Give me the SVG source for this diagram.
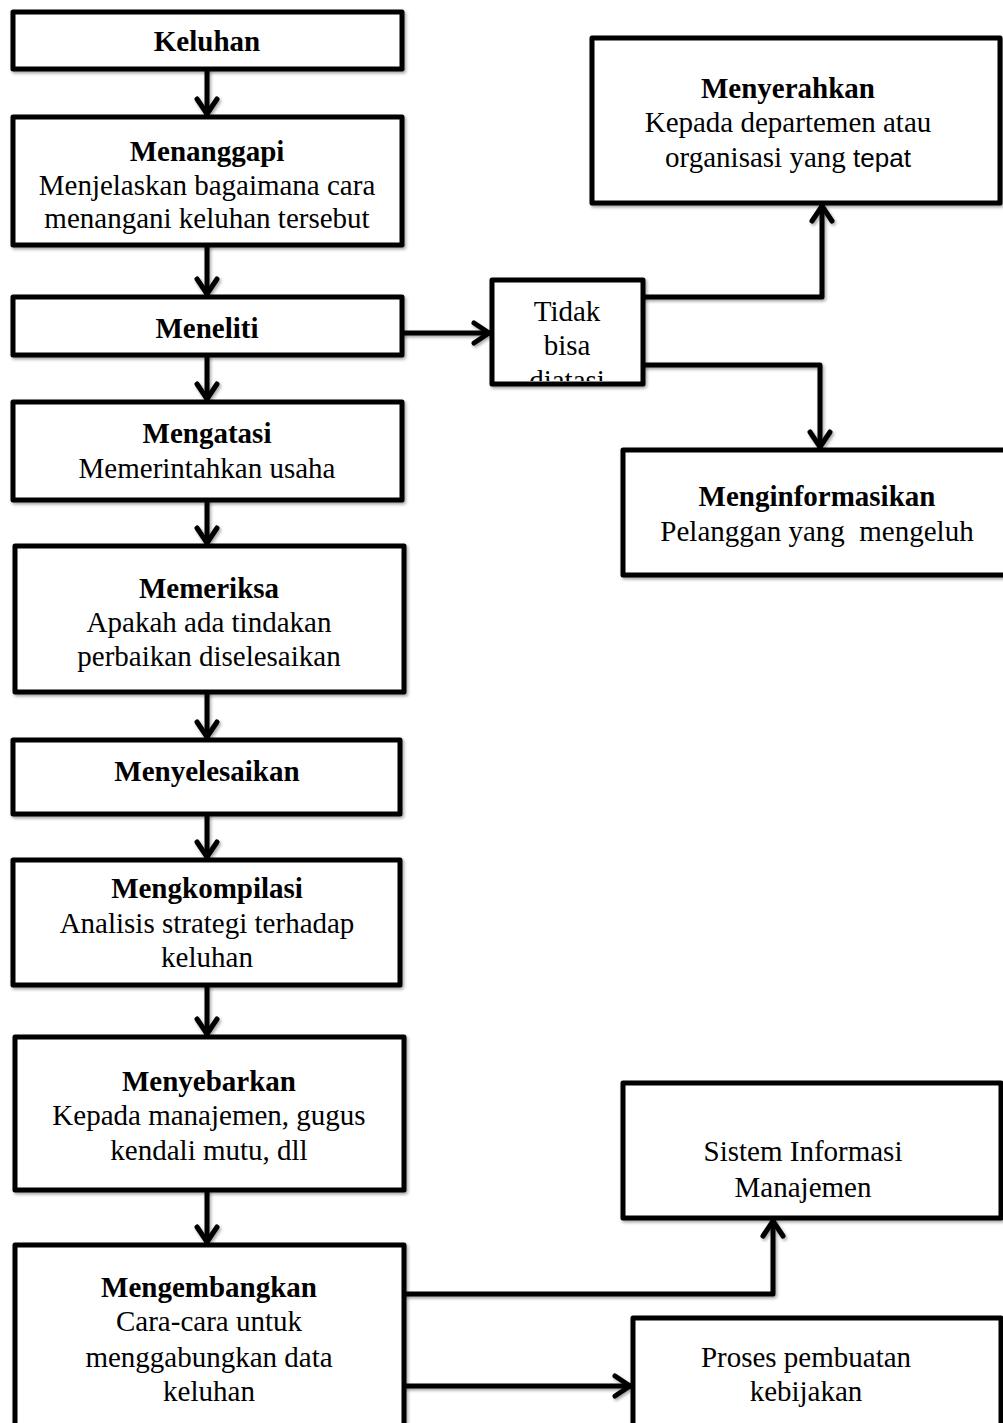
<svg xmlns="http://www.w3.org/2000/svg" width="1003" height="1423" viewBox="0 0 1003 1423">
<style>
.box{fill:#fff;stroke:#000;stroke-width:5;stroke-linejoin:round}
.t{font-family:"Liberation Serif","Times New Roman",serif;font-size:29px;text-anchor:middle;fill:#000}
.b{font-weight:bold}
.c{fill:none;stroke:#000;stroke-width:5;stroke-linejoin:round}
</style>
<defs>
<filter id="sh" x="-20%" y="-20%" width="140%" height="140%">
<feDropShadow dx="1.5" dy="2" stdDeviation="1.5" flood-color="#000" flood-opacity="0.35"/>
</filter>
<marker id="ah" viewBox="0 0 26 26" refX="22" refY="13" markerWidth="26" markerHeight="26" markerUnits="userSpaceOnUse" orient="auto">
<polyline points="6,3 21,13 6,23" fill="none" stroke="#000" stroke-width="5" stroke-linejoin="miter" stroke-linecap="round"/>
</marker>
<clipPath id="clipT"><rect x="494" y="282" width="147" height="99"/></clipPath>
</defs>

<g id="connectors" filter="url(#sh)">
<line class="c" x1="207" y1="69" x2="207" y2="115" marker-end="url(#ah)"/>
<line class="c" x1="207" y1="245" x2="207" y2="295" marker-end="url(#ah)"/>
<line class="c" x1="207" y1="355" x2="207" y2="400" marker-end="url(#ah)"/>
<line class="c" x1="207" y1="500" x2="207" y2="544" marker-end="url(#ah)"/>
<line class="c" x1="207" y1="692" x2="207" y2="738" marker-end="url(#ah)"/>
<line class="c" x1="207" y1="814" x2="207" y2="858" marker-end="url(#ah)"/>
<line class="c" x1="207" y1="985" x2="207" y2="1035" marker-end="url(#ah)"/>
<line class="c" x1="207" y1="1190" x2="207" y2="1243" marker-end="url(#ah)"/>
<line class="c" x1="402" y1="333" x2="490" y2="333" marker-end="url(#ah)"/>
<polyline class="c" points="643,297 822,297 822,205" marker-end="url(#ah)"/>
<polyline class="c" points="643,365 820,365 820,448" marker-end="url(#ah)"/>
<polyline class="c" points="404,1294 773,1294 773,1220" marker-end="url(#ah)"/>
<line class="c" x1="404" y1="1386" x2="631" y2="1386" marker-end="url(#ah)"/>
</g>

<g id="keluhan">
<rect class="box" x="13" y="12" width="389" height="57" filter="url(#sh)"/>
<text class="t b" x="207" y="51">Keluhan</text>
</g>
<g id="menanggapi">
<rect class="box" x="13" y="117" width="389" height="128" filter="url(#sh)"/>
<text class="t b" x="207" y="161">Menanggapi</text>
<text class="t" x="207" y="195">Menjelaskan bagaimana cara</text>
<text class="t" x="207" y="228">menangani keluhan tersebut</text>
</g>
<g id="meneliti">
<rect class="box" x="13" y="297" width="389" height="58" filter="url(#sh)"/>
<text class="t b" x="207" y="338">Meneliti</text>
</g>
<g id="mengatasi">
<rect class="box" x="13" y="402" width="389" height="98" filter="url(#sh)"/>
<text class="t b" x="207" y="443">Mengatasi</text>
<text class="t" x="207" y="478">Memerintahkan usaha</text>
</g>
<g id="memeriksa">
<rect class="box" x="15" y="546" width="389" height="146" filter="url(#sh)"/>
<text class="t b" x="209" y="598">Memeriksa</text>
<text class="t" x="209" y="632">Apakah ada tindakan</text>
<text class="t" x="209" y="666">perbaikan diselesaikan</text>
</g>
<g id="menyelesaikan">
<rect class="box" x="13" y="740" width="387" height="74" filter="url(#sh)"/>
<text class="t b" x="207" y="781">Menyelesaikan</text>
</g>
<g id="mengkompilasi">
<rect class="box" x="13" y="860" width="387" height="125" filter="url(#sh)"/>
<text class="t b" x="207" y="898">Mengkompilasi</text>
<text class="t" x="207" y="933">Analisis strategi terhadap</text>
<text class="t" x="207" y="967">keluhan</text>
</g>
<g id="menyebarkan">
<rect class="box" x="15" y="1037" width="389" height="153" filter="url(#sh)"/>
<text class="t b" x="209" y="1091">Menyebarkan</text>
<text class="t" x="209" y="1125">Kepada manajemen, gugus</text>
<text class="t" x="209" y="1160">kendali mutu, dll</text>
</g>
<g id="mengembangkan">
<rect class="box" x="15" y="1245" width="389" height="190" filter="url(#sh)"/>
<text class="t b" x="209" y="1297">Mengembangkan</text>
<text class="t" x="209" y="1331">Cara-cara untuk</text>
<text class="t" x="209" y="1367">menggabungkan data</text>
<text class="t" x="209" y="1401">keluhan</text>
</g>
<g id="tidak-bisa">
<rect class="box" x="492" y="280" width="151" height="104" filter="url(#sh)"/>
<g clip-path="url(#clipT)">
<text class="t" x="567" y="321">Tidak</text>
<text class="t" x="567" y="355">bisa</text>
<text class="t" x="567" y="390">diatasi</text>
</g>
</g>
<g id="menyerahkan">
<rect class="box" x="592" y="38" width="408" height="165" filter="url(#sh)"/>
<text class="t b" x="788" y="98">Menyerahkan</text>
<text class="t" x="788" y="132">Kepada departemen atau</text>
<text class="t" x="788" y="167">organisasi yang <tspan font-family="'Liberation Sans',Arial,sans-serif" font-size="26">tepat</tspan></text>
</g>
<g id="menginformasikan">
<rect class="box" x="623" y="450" width="390" height="125" filter="url(#sh)"/>
<text class="t b" x="817" y="506">Menginformasikan</text>
<text class="t" x="817" y="541" xml:space="preserve">Pelanggan yang  mengeluh</text>
</g>
<g id="sistem-informasi">
<rect class="box" x="623" y="1083" width="378" height="135" filter="url(#sh)"/>
<text class="t" x="803" y="1161">Sistem Informasi</text>
<text class="t" x="803" y="1197">Manajemen</text>
</g>
<g id="proses-pembuatan">
<rect class="box" x="633" y="1318" width="368" height="120" filter="url(#sh)"/>
<text class="t" x="806" y="1367">Proses pembuatan</text>
<text class="t" x="806" y="1401">kebijakan</text>
</g>
</svg>
